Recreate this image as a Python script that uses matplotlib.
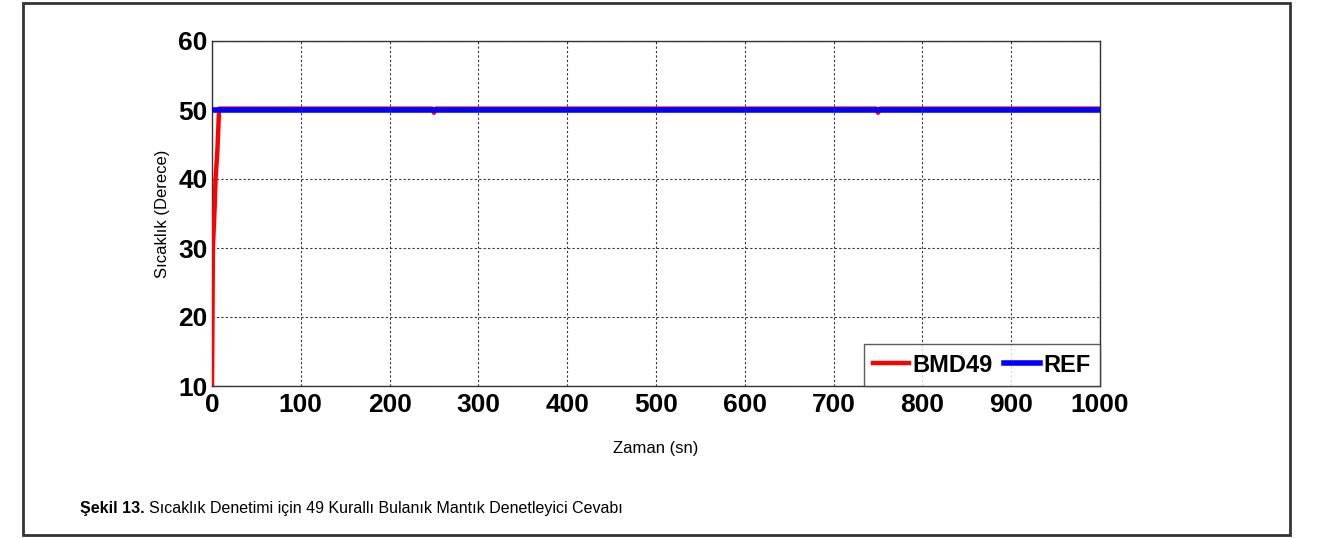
import matplotlib
matplotlib.use("Agg")
import matplotlib.pyplot as plt

# Controller response (BMD49) and reference temperature (REF)
time_s = [0, 1, 2, 3, 4, 5, 6, 7, 8, 248, 250, 252, 500, 748, 750, 752, 1000]
bmd49 = [10, 30, 33, 36, 40, 42, 44, 47, 50.2, 50.2, 49.6, 50.2, 50.2, 50.2, 49.6, 50.2, 50.2]
ref_time = [0, 1000]
ref_temp = [50, 50]

x_ticks = [0, 100, 200, 300, 400, 500, 600, 700, 800, 900, 1000]
y_ticks = [10, 20, 30, 40, 50, 60]

W, H = 1330, 538
fig = plt.figure(figsize=(W / 100, H / 100), dpi=100)

num_font = ['Liberation Sans Narrow', 'Liberation Sans', 'DejaVu Sans']
txt_font = ['Liberation Sans', 'DejaVu Sans']

# outer frame of the figure panel
frame = plt.Rectangle((23 / W, 1 - 535 / H), (1290 - 23) / W, (535 - 3) / H,
                      transform=fig.transFigure, fill=False, edgecolor='#333333',
                      linewidth=2.0)
fig.add_artist(frame)

ax = fig.add_axes([212 / W, 1 - 386 / H, (1100 - 212) / W, (386 - 41) / H])
ax.plot(time_s, bmd49, color='#ff0000', linewidth=3.2, label='BMD49', zorder=3)
ax.plot(ref_time, ref_temp, color='#0000ff', linewidth=4, label='REF', zorder=4)

ax.set_xlim(0, 1000)
ax.set_ylim(10, 60)
ax.set_xticks(x_ticks)
ax.set_yticks(y_ticks)
ax.set_xticklabels([str(v) for v in x_ticks], family=num_font, fontweight='bold', fontsize=19)
ax.set_yticklabels([str(v) for v in y_ticks], family=num_font, fontweight='bold', fontsize=19)
ax.tick_params(axis='x', length=0, pad=5)
ax.tick_params(axis='y', length=0, pad=3)
ax.grid(True, color='#333333', linestyle=(0, (2, 2)), linewidth=0.8)
for sp in ax.spines.values():
    sp.set_color('#333333')
    sp.set_linewidth(1.0)

ax.set_xlabel('Zaman (sn)', family=txt_font, fontsize=12)
ax.set_ylabel('Sıcaklık (Derece)', family=txt_font, fontsize=12)
ax.xaxis.set_label_coords(0.5, -0.16)
ax.yaxis.set_label_coords(-0.047, 0.5)

leg = ax.legend(loc='lower right', ncol=2, frameon=True, fancybox=False,
                borderaxespad=0, handlelength=1.5, columnspacing=0.5,
                handletextpad=0.15, borderpad=0.4, handleheight=0.7,
                prop={'family': num_font, 'weight': 'bold', 'size': 17})
leg.get_frame().set_edgecolor('#333333')
leg.get_frame().set_linewidth(1.0)

fig.text(80 / W, 1 - 508 / H, 'Şekil 13.', family=txt_font, fontweight='bold',
         fontsize=11.5, va='center', ha='left')
fig.text(149 / W, 1 - 508 / H,
         'Sıcaklık Denetimi için 49 Kurallı Bulanık Mantık Denetleyici Cevabı',
         family=txt_font, fontsize=11.5, va='center', ha='left')

fig.savefig('out.png', dpi=100)
